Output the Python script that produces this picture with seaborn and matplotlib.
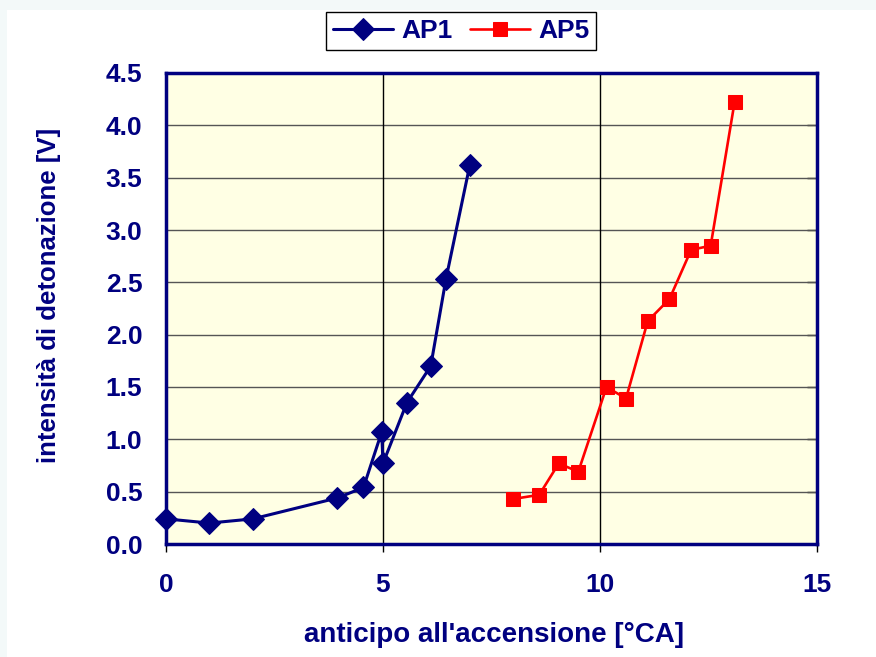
import pandas as pd
import matplotlib.pyplot as plt
import matplotlib.patches as mpatches
import seaborn as sns

# valori
ap1_anticipo = [0.0, 1.0, 2.0, 3.95, 4.55, 4.97, 5.0, 5.55, 6.1, 6.45, 7.0]
ap1_intensita = [0.24, 0.20, 0.24, 0.44, 0.54, 1.07, 0.77, 1.35, 1.70, 2.53, 3.62]

ap5_anticipo = [8.0, 8.6, 9.05, 9.5, 10.15, 10.6, 11.1, 11.6, 12.1, 12.55, 13.1]
ap5_intensita = [0.43, 0.47, 0.77, 0.69, 1.50, 1.39, 2.13, 2.34, 2.81, 2.85, 4.22]

x_ticks = [0, 5, 10, 15]
y_ticks = [0.0, 0.5, 1.0, 1.5, 2.0, 2.5, 3.0, 3.5, 4.0, 4.5]

navy = "#000080"

df1 = pd.DataFrame({"x": ap1_anticipo, "y": ap1_intensita})
df5 = pd.DataFrame({"x": ap5_anticipo, "y": ap5_intensita})

sns.set_style("white")
plt.rcParams["font.family"] = ["Liberation Sans", "DejaVu Sans"]
plt.rcParams["font.weight"] = "bold"

fig = plt.figure(figsize=(8.76, 6.57), dpi=100)
fig.patch.set_facecolor("#f3f9f9")
sfondo = mpatches.Rectangle((7 / 876, 0), 1, 1 - 10 / 657, transform=fig.transFigure,
                            facecolor="white", edgecolor="none", zorder=-10)
fig.add_artist(sfondo)

ax = fig.add_axes([166 / 876, 1 - 544 / 657, (817 - 166) / 876, (544 - 73) / 657])
ax.set_facecolor("#FFFFE4")

sns.lineplot(data=df1, x="x", y="y", sort=False, ax=ax, color=navy, linewidth=2.2,
             marker="D", markersize=11, markeredgecolor=navy, label="AP1",
             clip_on=False, zorder=5)
sns.lineplot(data=df5, x="x", y="y", sort=False, ax=ax, color="red", linewidth=1.9,
             marker="s", markersize=10, markeredgecolor="red", label="AP5",
             clip_on=False, zorder=5)

ax.set_xlim(0, 15)
ax.set_ylim(0, 4.5)
ax.set_xticks(x_ticks)
ax.set_yticks(y_ticks)
ax.set_yticklabels([f"{v:.1f}" for v in y_ticks])

for y in y_ticks[1:-1]:
    ax.axhline(y, color="#555555", linewidth=1, zorder=1)
for x in x_ticks[1:-1]:
    ax.axvline(x, color="black", linewidth=1, zorder=1)

for s in ax.spines.values():
    s.set_color(navy)
    s.set_linewidth(2.5)
    s.set_zorder(4)

ax.tick_params(axis="x", bottom=True, direction="out", length=6, width=1,
               color="black", pad=15, labelsize=19, labelcolor=navy)
ax.tick_params(axis="y", left=False, right=True, direction="in", length=7,
               width=1, color="black", pad=17, labelsize=19, labelcolor=navy)
ax.yaxis.set_ticks_position("right")
ax.yaxis.set_label_position("left")
ax.yaxis.set_tick_params(labelleft=True, labelright=False)
for lab in ax.get_xticklabels() + ax.get_yticklabels():
    lab.set_fontweight("bold")

ax.set_xlabel("anticipo all'accensione [°CA]", fontsize=20, fontweight="bold",
              color=navy, va="center")
ax.xaxis.set_label_coords((494 - 166) / 651, (544 - 635) / 471)
ax.set_ylabel("intensità di detonazione [V]", fontsize=18.5, fontweight="bold",
              color=navy, va="center")
ax.yaxis.set_label_coords((49 - 166) / 651, (544 - 295) / 471)

leg = ax.legend(loc="center", bbox_to_anchor=(461 / 876, 1 - 31 / 657),
                bbox_transform=fig.transFigure, ncol=2, frameon=True,
                fancybox=False, edgecolor="black", framealpha=1,
                prop={"size": 19, "weight": "bold"}, handlelength=2.3,
                columnspacing=0.65, handletextpad=0.3, borderpad=0.25,
                borderaxespad=0)
leg.get_frame().set_linewidth(1)
for t in leg.get_texts():
    t.set_color(navy)

fig.savefig("out.png", dpi=100, facecolor=fig.get_facecolor())
